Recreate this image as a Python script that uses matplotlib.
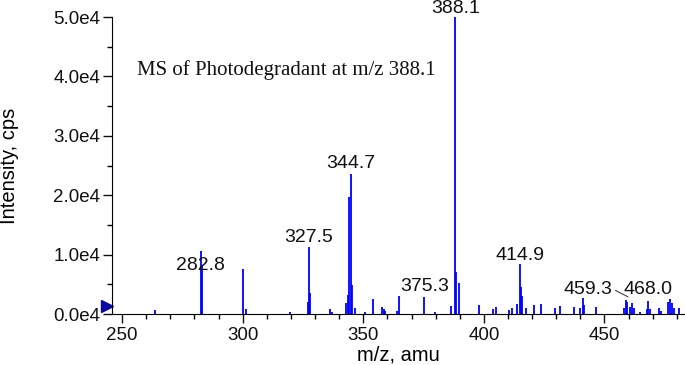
from matplotlib import pyplot as plt
from matplotlib.ticker import MultipleLocator, FuncFormatter
import numpy as np

## Data ------------------------------------------------------------------
mz = [263.5, 282.8, 283.2, 300.0, 301.4, 319.8, 326.9, 327.5, 327.9, 336.3,
      337.0, 342.8, 343.5, 344.2, 344.7, 345.2, 346.5, 350.7, 353.9, 357.7,
      358.4, 359.2, 363.8, 364.8, 375.3, 379.7, 386.4, 388.1, 388.6, 389.7,
      398.1, 403.9, 405.0, 410.6, 411.6, 413.9, 414.9, 415.4, 415.9, 417.3,
      420.9, 423.8, 429.6, 431.4, 437.2, 440.0, 440.9, 441.5, 446.5, 458.2,
      458.9, 459.3, 460.7, 461.5, 462.4, 464.9, 467.7, 468.0, 469.0, 472.6,
      473.3, 476.3, 477.1, 477.9, 478.7, 481.0]
intensity = [600, 10600, 8000, 7500, 800, 300, 2000, 11200, 3500, 800,
             400, 1800, 3200, 19700, 23600, 4900, 1000, 300, 2600, 1200,
             800, 500, 500, 3000, 2800, 300, 1300, 50000, 7100, 5200,
             1500, 800, 1100, 700, 1000, 1700, 8400, 4500, 3000, 1000,
             1500, 1700, 1000, 1300, 1100, 1000, 2700, 1500, 1200, 1000,
             2300, 2000, 1200, 1800, 1000, 300, 800, 2200, 800, 1000,
             500, 2000, 2500, 1800, 1000, 1000]

# peak labels: text, label position (m/z, intensity)
labels = ["282.8", "327.5", "344.7", "375.3", "388.1", "414.9", "468.0"]
label_x = [282.5, 327.3, 344.7, 375.6, 388.1, 415.1, 468.2]
label_y = [8250, 12960, 25420, 4550, 51500, 9930, 4200]

title = "MS of Photodegradant at m/z 388.1"

## Set up plot ------------------------------------------------------------
fsize = 13.5
plt.rc("font", family="Liberation Sans", size=fsize)

fig = plt.figure(figsize=(6.85, 3.65), dpi=100)
ax = fig.add_axes([0.1635, 0.1397, 0.8355, 0.8137])

ax.vlines(mz, 0, intensity, color="#0000ff", linewidth=1.3)

for t, x, y in zip(labels, label_x, label_y):
    ax.text(x, y, t, ha="center", va="center", color="#111111",
            fontsize=14, clip_on=False)

# label with leader line
ax.annotate("459.3", xy=(459.7, 2900), xytext=(443.3, 4200),
            ha="center", va="center", color="#111111", fontsize=14,
            arrowprops=dict(arrowstyle="-", color="#444444", lw=0.8,
                            relpos=(1, 0.5), shrinkA=0, shrinkB=0))

ax.text(0.044, 0.82, title, transform=ax.transAxes, family="Liberation Serif",
        fontsize=15, color="#111111", va="center")

# baseline marker at left
ax.plot([-0.009], [0.027], marker=">", ms=9, color="#0a0aa0",
        transform=ax.transAxes, clip_on=False)

ax.set_xlim(245.8, 483.1)
ax.set_ylim(0, 50000)

ax.spines["top"].set_visible(False)
ax.spines["right"].set_visible(False)

ax.xaxis.set_major_locator(MultipleLocator(50))
ax.xaxis.set_minor_locator(MultipleLocator(10))
ax.yaxis.set_major_locator(MultipleLocator(10000))
ax.yaxis.set_minor_locator(MultipleLocator(5000))
ax.yaxis.set_major_formatter(FuncFormatter(lambda v, p: "%.1fe4" % (v / 1e4)))
ax.tick_params(which="major", length=6.5, width=1, colors="#111111")
ax.tick_params(which="minor", length=3.5, width=1)
ax.tick_params(axis="x", pad=3)
ax.tick_params(axis="y", pad=2)

ax.set_xlabel("m/z, amu", fontsize=14.5, labelpad=1)
ax.set_ylabel("Intensity, cps", fontsize=14.5)
ax.yaxis.set_label_coords(-0.163, 0.5)

fig.savefig("out.png", dpi=100)
